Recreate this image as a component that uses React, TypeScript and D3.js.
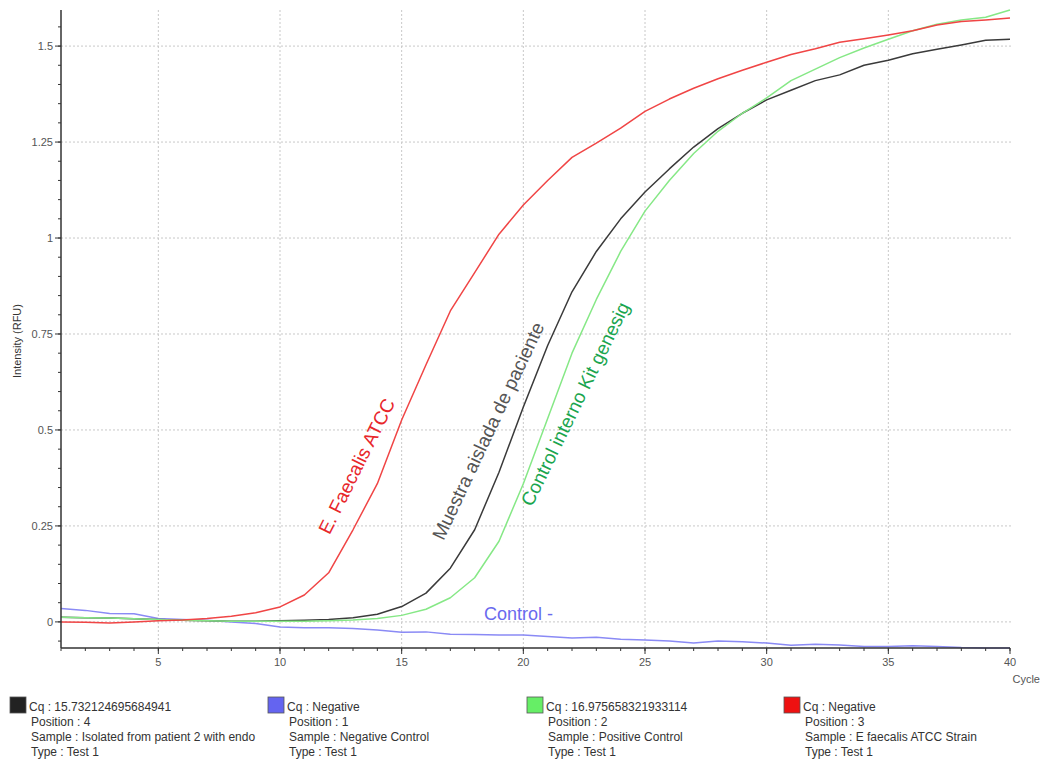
import React from 'react';
import * as d3 from 'd3';

// cycles 1..40
const cycles = d3.range(1, 41);

const redValues = [
  0.0, -0.001, -0.003, 0.0, 0.003, 0.005, 0.009, 0.015, 0.024, 0.039,
  0.07, 0.128, 0.24, 0.36, 0.526, 0.67, 0.81, 0.91, 1.01, 1.086,
  1.15, 1.21, 1.247, 1.286, 1.33, 1.362, 1.39, 1.415, 1.437, 1.458,
  1.478, 1.493, 1.51, 1.519, 1.529, 1.54, 1.555, 1.564, 1.568, 1.573,
];
const blackValues = [
  0.012, 0.011, 0.01, 0.008, 0.006, 0.004, 0.003, 0.002, 0.002, 0.003,
  0.004, 0.006, 0.011, 0.02, 0.04, 0.075, 0.14, 0.24, 0.39, 0.56,
  0.72, 0.86, 0.965, 1.05, 1.12, 1.18, 1.237, 1.285, 1.325, 1.36,
  1.385, 1.41, 1.425, 1.45, 1.463, 1.48, 1.492, 1.503, 1.515, 1.518,
];
const greenValues = [
  0.012, 0.011, 0.01, 0.008, 0.006, 0.004, 0.003, 0.002, 0.002, 0.002,
  0.002, 0.003, 0.005, 0.009, 0.017, 0.033, 0.063, 0.115, 0.21, 0.36,
  0.53, 0.7, 0.84, 0.965, 1.07, 1.15, 1.22, 1.278, 1.325, 1.365,
  1.41, 1.44, 1.47, 1.495, 1.518, 1.54, 1.557, 1.568, 1.575, 1.594,
];
const blueValues = [
  0.035, 0.03, 0.022, 0.021, 0.009, 0.006, 0.004, 0.0, -0.004, -0.013,
  -0.015, -0.015, -0.017, -0.021, -0.027, -0.026, -0.032, -0.033, -0.034, -0.034,
  -0.038, -0.042, -0.04, -0.045, -0.047, -0.05, -0.055, -0.05, -0.052, -0.055,
  -0.061, -0.058, -0.06, -0.064, -0.064, -0.062, -0.064, -0.067, -0.068, -0.068,
];

const yTicks = [0, 0.25, 0.5, 0.75, 1, 1.25, 1.5];
const xTicks = [5, 10, 15, 20, 25, 30, 35, 40];

const seriesNames = ['black', 'blue', 'green', 'red'];
const seriesColors = ['#3a3a3a', '#8a8af5', '#86e886', '#f04545'];
const legendSwatch = ['#222222', '#6464f0', '#66ee66', '#ee1111'];
const legendCq = ['15.732124695684941', 'Negative', '16.975658321933114', 'Negative'];
const legendPosition = ['4', '1', '2', '3'];
const legendSample = ['Isolated from patient 2 with endo', 'Negative Control', 'Positive Control', 'E faecalis ATCC Strain'];
const legendType = ['Test 1', 'Test 1', 'Test 1', 'Test 1'];

const W = 1044;
const H = 763;
const font = 'Arial, "Liberation Sans", sans-serif';

export default function App() {
  const x = d3.scaleLinear().domain([1, 40]).range([61, 1010]);
  const y = d3.scaleLinear().domain([-0.068, 1.594]).range([648, 10]);

  const line = d3.line<number>()
    .x((_, i) => x(cycles[i]))
    .y(d => y(d));

  const allSeries = [blackValues, blueValues, greenValues, redValues];
  // draw order: blue, black, green, red on top
  const drawOrder = [1, 0, 2, 3];

  const yMinor = d3.range(-0.05, 1.5501, 0.05);
  const xMinor = cycles;

  const [y0, y1] = y.range();
  const [x0, x1] = x.range();

  const legendX = [10, 268, 527, 784];

  return (
    <svg width={W} height={H} style={{ position: 'absolute', left: 0, top: 0, background: '#fff' }} fontFamily={font}>
      {/* grid */}
      <g stroke="#c8c8c8" strokeWidth={1} strokeDasharray="2,2">
        {yTicks.map(t => (
          <line key={'gy' + t} x1={x0} x2={x1 + 2} y1={y(t)} y2={y(t)} />
        ))}
        {xTicks.filter(t => t < 40).map(t => (
          <line key={'gx' + t} x1={x(t)} x2={x(t)} y1={y0} y2={y1} />
        ))}
      </g>

      {/* series */}
      {drawOrder.map(i => (
        <path key={seriesNames[i]} d={line(allSeries[i]) || ''} fill="none"
          stroke={seriesColors[i]} strokeWidth={1.5} strokeLinejoin="round" />
      ))}

      {/* y axis */}
      <g stroke="#333" >
        <line x1={x0} x2={x0} y1={y0} y2={y1} strokeWidth={1.5} />
        {yMinor.map(t => (
          <line key={'ym' + t} x1={x0 - 3} x2={x0} y1={y(t)} y2={y(t)} strokeWidth={1} />
        ))}
        {yTicks.map(t => (
          <line key={'yt' + t} x1={x0 - 6} x2={x0} y1={y(t)} y2={y(t)} strokeWidth={1} />
        ))}
      </g>
      {yTicks.map(t => (
        <text key={'yl' + t} x={x0 - 8} y={y(t)} dy="0.35em" textAnchor="end" fontSize={11} fill="#555">
          {d3.format('~g')(t)}
        </text>
      ))}
      <text transform={`translate(21,${(y0 + y1) / 2 + 12}) rotate(-90)`} textAnchor="middle" fontSize={11} fill="#333">
        Intensity (RFU)
      </text>

      {/* x axis */}
      <g stroke="#333">
        <line x1={x0} x2={x1} y1={y0} y2={y0} strokeWidth={1.5} />
        {xMinor.map(t => (
          <line key={'xm' + t} x1={x(t)} x2={x(t)} y1={y0} y2={y0 + 3} strokeWidth={1} />
        ))}
        {xTicks.map(t => (
          <line key={'xt' + t} x1={x(t)} x2={x(t)} y1={y0} y2={y0 + 6} strokeWidth={1} />
        ))}
      </g>
      {xTicks.map(t => (
        <text key={'xl' + t} x={x(t)} y={y0 + 18} textAnchor="middle" fontSize={11} fill="#555">
          {t}
        </text>
      ))}
      <text x={1040} y={y0 + 35} textAnchor="end" fontSize={11} fill="#555">Cycle</text>

      {/* annotations */}
      <text transform={`translate(${x(12.03)},${y(0.225)}) rotate(-63.5)`} fontSize={19} fill="#e8262b">
        E. Faecalis ATCC
      </text>
      <text transform={`translate(${x(16.72)},${y(0.21)}) rotate(-64.8)`} fontSize={19} fill="#555">
        Muestra aislada de paciente
      </text>
      <text transform={`translate(${x(20.36)},${y(0.298)}) rotate(-64)`} fontSize={19} fill="#1aa54e">
        Control interno Kit genesig
      </text>
      <text x={x(18.38)} y={y(0.005)} fontSize={18} fill="#6a6aee">Control -</text>

      {/* legend */}
      {seriesNames.map((name, i) => (
        <g key={'lg' + name} transform={`translate(${legendX[i]},697)`}>
          <rect x={0} y={0} width={16} height={16} fill={legendSwatch[i]} stroke="#555" strokeWidth={0.8} />
          <text x={19} y={14} fontSize={12} fill="#333">{'Cq : ' + legendCq[i]}</text>
          <text x={21} y={29} fontSize={12} fill="#333">{'Position : ' + legendPosition[i]}</text>
          <text x={21} y={44} fontSize={12} fill="#333">{'Sample : ' + legendSample[i]}</text>
          <text x={21} y={59} fontSize={12} fill="#333">{'Type : ' + legendType[i]}</text>
        </g>
      ))}
    </svg>
  );
}
